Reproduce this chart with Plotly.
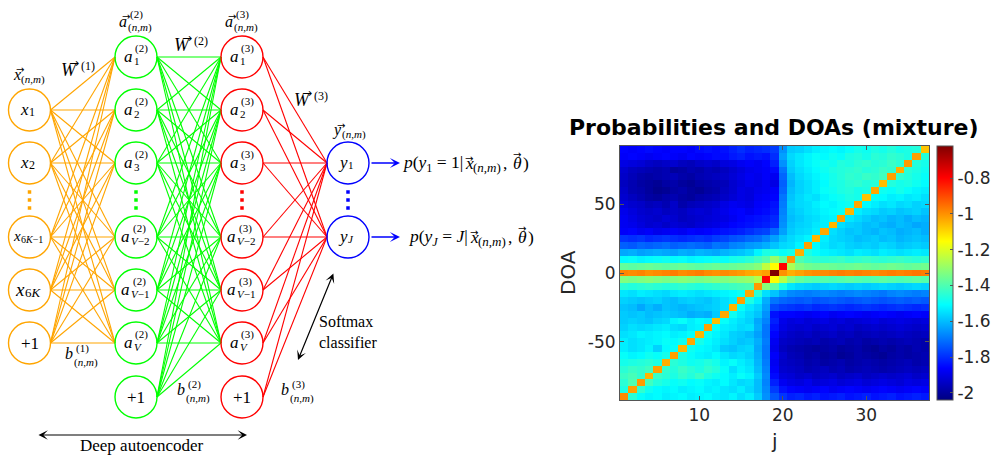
import plotly.graph_objects as go

# ---------------- heatmap data (rows: DOA 90 -> -90, columns j = 1..37) ----------------
j_index = list(range(1, 38))
doa_deg = list(range(90, -95, -5))

prob_rows = [
    [-1.86,-1.87,-1.86,-1.85,-1.86,-1.87,-1.86,-1.86,-1.87,-1.85,-1.84,-1.85,-1.84,-1.82,-1.80,-1.82,-1.81,-1.80,-1.78,-1.66,-1.58,-1.57,-1.55,-1.53,-1.52,-1.51,-1.52,-1.50,-1.48,-1.49,-1.47,-1.48,-1.46,-1.48,-1.47,-1.46,-1.07],
    [-1.87,-1.86,-1.87,-1.88,-1.87,-1.86,-1.87,-1.88,-1.86,-1.87,-1.86,-1.85,-1.85,-1.83,-1.82,-1.84,-1.83,-1.84,-1.80,-1.64,-1.56,-1.54,-1.52,-1.50,-1.51,-1.49,-1.50,-1.47,-1.46,-1.48,-1.45,-1.46,-1.44,-1.45,-1.47,-1.02,-1.46],
    [-1.90,-1.91,-1.92,-1.94,-1.95,-1.94,-1.93,-1.95,-1.96,-1.94,-1.93,-1.94,-1.91,-1.90,-1.88,-1.87,-1.88,-1.86,-1.82,-1.66,-1.57,-1.54,-1.52,-1.50,-1.48,-1.49,-1.46,-1.47,-1.45,-1.44,-1.46,-1.45,-1.43,-1.45,-1.01,-1.46,-1.48],
    [-1.93,-1.95,-1.96,-1.97,-1.98,-1.97,-2.00,-1.99,-1.97,-1.98,-1.96,-1.97,-1.95,-1.93,-1.91,-1.89,-1.88,-1.87,-1.85,-1.70,-1.58,-1.55,-1.53,-1.51,-1.49,-1.47,-1.46,-1.45,-1.44,-1.46,-1.45,-1.43,-1.44,-1.04,-1.45,-1.47,-1.49],
    [-1.94,-1.96,-1.98,-1.99,-1.98,-1.97,-1.96,-1.98,-1.99,-1.97,-1.96,-1.95,-1.94,-1.92,-1.90,-1.88,-1.89,-1.87,-1.88,-1.72,-1.60,-1.56,-1.54,-1.52,-1.50,-1.48,-1.46,-1.44,-1.45,-1.43,-1.44,-1.42,-1.02,-1.44,-1.46,-1.48,-1.50],
    [-1.95,-1.97,-1.99,-2.00,-2.01,-1.99,-1.98,-2.00,-2.01,-1.99,-1.98,-1.97,-1.96,-1.93,-1.91,-1.89,-1.90,-1.88,-1.90,-1.73,-1.61,-1.57,-1.55,-1.53,-1.51,-1.48,-1.47,-1.45,-1.44,-1.46,-1.45,-1.06,-1.46,-1.48,-1.47,-1.49,-1.51],
    [-1.94,-1.97,-1.98,-2.00,-2.02,-2.01,-1.99,-1.98,-2.00,-2.01,-1.99,-1.98,-1.95,-1.93,-1.90,-1.91,-1.89,-1.88,-1.87,-1.72,-1.60,-1.57,-1.55,-1.53,-1.50,-1.49,-1.47,-1.46,-1.48,-1.47,-1.03,-1.49,-1.50,-1.48,-1.50,-1.52,-1.53],
    [-1.93,-1.95,-1.97,-1.99,-2.00,-1.98,-1.97,-1.99,-2.00,-1.98,-1.97,-1.96,-1.94,-1.92,-1.90,-1.91,-1.88,-1.87,-1.86,-1.70,-1.59,-1.56,-1.54,-1.55,-1.52,-1.50,-1.49,-1.47,-1.48,-1.07,-1.50,-1.51,-1.53,-1.52,-1.54,-1.53,-1.55],
    [-1.91,-1.93,-1.94,-1.96,-1.95,-1.97,-1.94,-1.98,-1.96,-1.95,-1.94,-1.93,-1.90,-1.88,-1.89,-1.90,-1.87,-1.86,-1.84,-1.69,-1.58,-1.56,-1.55,-1.53,-1.51,-1.52,-1.50,-1.49,-1.03,-1.51,-1.53,-1.55,-1.54,-1.56,-1.55,-1.57,-1.56],
    [-1.89,-1.91,-1.93,-1.94,-1.93,-1.95,-1.94,-1.95,-1.93,-1.92,-1.93,-1.91,-1.89,-1.87,-1.86,-1.88,-1.86,-1.85,-1.83,-1.68,-1.59,-1.57,-1.55,-1.54,-1.52,-1.51,-1.50,-1.05,-1.53,-1.55,-1.56,-1.58,-1.57,-1.59,-1.58,-1.57,-1.59],
    [-1.88,-1.90,-1.92,-1.93,-1.94,-1.92,-1.93,-1.95,-1.94,-1.93,-1.92,-1.91,-1.90,-1.88,-1.86,-1.85,-1.84,-1.83,-1.81,-1.67,-1.60,-1.58,-1.56,-1.55,-1.53,-1.52,-1.02,-1.54,-1.56,-1.58,-1.60,-1.59,-1.61,-1.60,-1.62,-1.60,-1.61],
    [-1.88,-1.89,-1.91,-1.93,-1.92,-1.94,-1.92,-1.93,-1.94,-1.92,-1.91,-1.90,-1.88,-1.86,-1.85,-1.84,-1.83,-1.82,-1.80,-1.66,-1.59,-1.57,-1.56,-1.54,-1.53,-1.05,-1.55,-1.57,-1.58,-1.60,-1.59,-1.61,-1.62,-1.60,-1.61,-1.63,-1.62],
    [-1.87,-1.86,-1.88,-1.87,-1.89,-1.88,-1.87,-1.88,-1.86,-1.87,-1.86,-1.85,-1.84,-1.83,-1.82,-1.80,-1.78,-1.77,-1.72,-1.64,-1.58,-1.56,-1.55,-1.53,-1.03,-1.55,-1.57,-1.59,-1.58,-1.60,-1.61,-1.59,-1.60,-1.62,-1.61,-1.60,-1.62],
    [-1.79,-1.80,-1.79,-1.81,-1.80,-1.79,-1.80,-1.81,-1.80,-1.79,-1.80,-1.78,-1.77,-1.75,-1.74,-1.72,-1.71,-1.68,-1.64,-1.59,-1.56,-1.54,-1.52,-1.05,-1.53,-1.56,-1.57,-1.58,-1.60,-1.59,-1.58,-1.60,-1.59,-1.61,-1.60,-1.59,-1.60],
    [-1.73,-1.74,-1.72,-1.73,-1.72,-1.71,-1.73,-1.72,-1.71,-1.72,-1.73,-1.70,-1.71,-1.68,-1.67,-1.65,-1.64,-1.62,-1.59,-1.56,-1.55,-1.52,-1.02,-1.51,-1.54,-1.56,-1.55,-1.57,-1.58,-1.57,-1.58,-1.56,-1.57,-1.59,-1.58,-1.57,-1.58],
    [-1.63,-1.62,-1.64,-1.63,-1.62,-1.63,-1.64,-1.62,-1.63,-1.61,-1.62,-1.63,-1.61,-1.60,-1.59,-1.57,-1.52,-1.47,-1.48,-1.50,-1.48,-1.04,-1.47,-1.50,-1.52,-1.53,-1.54,-1.55,-1.53,-1.54,-1.55,-1.53,-1.54,-1.55,-1.54,-1.53,-1.54],
    [-1.51,-1.50,-1.52,-1.51,-1.50,-1.49,-1.51,-1.50,-1.52,-1.51,-1.50,-1.49,-1.50,-1.48,-1.47,-1.45,-1.42,-1.39,-1.30,-1.37,-1.01,-1.40,-1.43,-1.44,-1.45,-1.44,-1.43,-1.45,-1.44,-1.43,-1.44,-1.45,-1.44,-1.43,-1.44,-1.45,-1.44],
    [-1.37,-1.38,-1.37,-1.36,-1.37,-1.38,-1.37,-1.36,-1.37,-1.38,-1.37,-1.36,-1.37,-1.36,-1.35,-1.34,-1.32,-1.24,-1.15,-0.80,-1.27,-1.33,-1.35,-1.36,-1.35,-1.36,-1.37,-1.36,-1.35,-1.36,-1.37,-1.36,-1.35,-1.36,-1.37,-1.36,-1.35],
    [-0.98,-0.99,-0.98,-1.00,-0.99,-0.98,-0.97,-0.99,-0.98,-0.97,-0.99,-1.00,-0.99,-1.00,-1.01,-1.03,-1.04,-1.02,-0.62,-1.00,-1.04,-1.02,-1.00,-0.99,-0.99,-0.98,-0.97,-0.98,-0.97,-0.98,-0.99,-0.98,-0.97,-0.98,-0.97,-0.96,-0.97],
    [-1.33,-1.34,-1.33,-1.32,-1.33,-1.34,-1.33,-1.32,-1.33,-1.34,-1.33,-1.32,-1.33,-1.32,-1.31,-1.30,-1.26,-0.80,-1.15,-1.25,-1.33,-1.37,-1.39,-1.40,-1.39,-1.40,-1.39,-1.38,-1.39,-1.40,-1.39,-1.38,-1.39,-1.40,-1.39,-1.38,-1.39],
    [-1.45,-1.46,-1.45,-1.44,-1.45,-1.46,-1.45,-1.44,-1.45,-1.46,-1.45,-1.44,-1.43,-1.42,-1.41,-1.40,-1.01,-1.32,-1.38,-1.48,-1.54,-1.56,-1.57,-1.58,-1.57,-1.56,-1.57,-1.58,-1.57,-1.58,-1.57,-1.56,-1.57,-1.58,-1.57,-1.56,-1.57],
    [-1.54,-1.55,-1.53,-1.54,-1.55,-1.56,-1.54,-1.53,-1.54,-1.55,-1.54,-1.53,-1.52,-1.51,-1.49,-1.03,-1.45,-1.55,-1.59,-1.64,-1.67,-1.68,-1.69,-1.68,-1.67,-1.68,-1.69,-1.68,-1.67,-1.68,-1.69,-1.70,-1.68,-1.67,-1.68,-1.69,-1.68],
    [-1.57,-1.58,-1.59,-1.58,-1.57,-1.59,-1.60,-1.58,-1.57,-1.58,-1.59,-1.57,-1.55,-1.53,-1.02,-1.47,-1.53,-1.62,-1.70,-1.72,-1.73,-1.74,-1.73,-1.75,-1.74,-1.73,-1.74,-1.75,-1.74,-1.73,-1.74,-1.75,-1.74,-1.73,-1.74,-1.73,-1.74],
    [-1.59,-1.60,-1.63,-1.60,-1.62,-1.59,-1.60,-1.61,-1.60,-1.59,-1.58,-1.57,-1.55,-1.05,-1.50,-1.54,-1.57,-1.64,-1.76,-1.78,-1.79,-1.80,-1.79,-1.81,-1.80,-1.79,-1.80,-1.81,-1.80,-1.79,-1.80,-1.81,-1.80,-1.79,-1.80,-1.81,-1.80],
    [-1.58,-1.59,-1.58,-1.60,-1.59,-1.58,-1.59,-1.60,-1.62,-1.61,-1.62,-1.58,-1.03,-1.49,-1.53,-1.56,-1.59,-1.66,-1.84,-1.86,-1.86,-1.87,-1.88,-1.87,-1.86,-1.88,-1.87,-1.86,-1.87,-1.88,-1.87,-1.86,-1.87,-1.88,-1.87,-1.86,-1.87],
    [-1.58,-1.57,-1.58,-1.59,-1.57,-1.56,-1.52,-1.50,-1.53,-1.51,-1.52,-1.06,-1.50,-1.53,-1.55,-1.57,-1.63,-1.68,-1.82,-1.89,-1.91,-1.90,-1.92,-1.91,-1.90,-1.92,-1.91,-1.93,-1.92,-1.91,-1.90,-1.92,-1.91,-1.90,-1.91,-1.92,-1.91],
    [-1.57,-1.55,-1.56,-1.55,-1.54,-1.53,-1.55,-1.56,-1.53,-1.52,-1.02,-1.50,-1.53,-1.54,-1.56,-1.55,-1.62,-1.70,-1.84,-1.90,-1.92,-1.93,-1.92,-1.94,-1.93,-1.92,-1.94,-1.93,-1.95,-1.94,-1.93,-1.94,-1.93,-1.92,-1.93,-1.94,-1.93],
    [-1.55,-1.54,-1.52,-1.53,-1.52,-1.51,-1.53,-1.52,-1.50,-1.05,-1.49,-1.52,-1.54,-1.57,-1.58,-1.60,-1.64,-1.70,-1.86,-1.92,-1.94,-1.95,-1.94,-1.96,-1.95,-1.94,-1.96,-1.95,-1.97,-1.96,-1.95,-1.96,-1.95,-1.94,-1.95,-1.96,-1.95],
    [-1.53,-1.55,-1.54,-1.53,-1.52,-1.50,-1.51,-1.49,-1.03,-1.48,-1.51,-1.53,-1.55,-1.57,-1.59,-1.58,-1.62,-1.69,-1.88,-1.94,-1.95,-1.96,-1.97,-1.96,-1.98,-1.97,-1.96,-1.98,-1.97,-1.99,-1.98,-1.97,-1.98,-1.97,-1.96,-1.97,-1.98],
    [-1.53,-1.55,-1.54,-1.52,-1.57,-1.51,-1.50,-1.05,-1.49,-1.51,-1.52,-1.54,-1.58,-1.59,-1.57,-1.56,-1.63,-1.70,-1.89,-1.95,-1.97,-1.98,-1.99,-2.00,-1.99,-1.98,-2.00,-1.99,-1.98,-2.00,-2.01,-1.99,-2.00,-1.98,-1.99,-1.97,-1.98],
    [-1.50,-1.52,-1.51,-1.49,-1.50,-1.48,-1.02,-1.47,-1.50,-1.52,-1.53,-1.51,-1.54,-1.56,-1.55,-1.57,-1.62,-1.70,-1.87,-1.93,-1.96,-1.97,-1.99,-1.98,-2.00,-1.99,-2.01,-2.00,-1.98,-1.99,-2.00,-2.01,-1.99,-1.98,-1.99,-1.98,-1.97],
    [-1.48,-1.47,-1.46,-1.45,-1.47,-1.04,-1.45,-1.47,-1.49,-1.48,-1.46,-1.48,-1.52,-1.50,-1.53,-1.55,-1.61,-1.69,-1.88,-1.94,-1.95,-1.96,-1.98,-1.97,-1.99,-1.98,-1.97,-1.99,-1.98,-1.97,-1.98,-1.99,-1.98,-1.97,-1.96,-1.98,-1.97],
    [-1.45,-1.43,-1.44,-1.42,-1.02,-1.44,-1.46,-1.43,-1.45,-1.47,-1.44,-1.46,-1.50,-1.55,-1.52,-1.54,-1.60,-1.68,-1.87,-1.93,-1.94,-1.95,-1.97,-1.96,-1.95,-1.97,-1.96,-1.98,-1.97,-1.96,-1.97,-1.98,-1.97,-1.96,-1.95,-1.96,-1.95],
    [-1.43,-1.41,-1.44,-1.05,-1.43,-1.45,-1.47,-1.44,-1.46,-1.43,-1.47,-1.49,-1.51,-1.53,-1.50,-1.52,-1.58,-1.67,-1.85,-1.91,-1.92,-1.94,-1.93,-1.95,-1.94,-1.93,-1.95,-1.94,-1.93,-1.95,-1.94,-1.93,-1.94,-1.93,-1.92,-1.94,-1.93],
    [-1.45,-1.40,-1.01,-1.42,-1.46,-1.48,-1.50,-1.49,-1.51,-1.50,-1.52,-1.53,-1.51,-1.54,-1.56,-1.55,-1.60,-1.68,-1.82,-1.88,-1.90,-1.91,-1.89,-1.92,-1.91,-1.90,-1.92,-1.91,-1.90,-1.92,-1.91,-1.90,-1.91,-1.92,-1.90,-1.91,-1.90],
    [-1.47,-1.02,-1.44,-1.49,-1.51,-1.52,-1.51,-1.53,-1.52,-1.51,-1.53,-1.52,-1.54,-1.55,-1.53,-1.56,-1.60,-1.67,-1.78,-1.84,-1.86,-1.87,-1.88,-1.87,-1.86,-1.88,-1.87,-1.86,-1.87,-1.88,-1.87,-1.86,-1.87,-1.88,-1.87,-1.86,-1.87],
    [-0.99,-1.45,-1.50,-1.52,-1.51,-1.53,-1.52,-1.51,-1.53,-1.52,-1.51,-1.53,-1.54,-1.52,-1.55,-1.53,-1.58,-1.66,-1.74,-1.79,-1.82,-1.81,-1.83,-1.82,-1.84,-1.83,-1.82,-1.84,-1.83,-1.82,-1.84,-1.83,-1.82,-1.84,-1.83,-1.82,-1.83],
]
assert len(prob_rows) == 37 and all(len(r) == 37 for r in prob_rows)

x_ticks = [10, 20, 30]
y_ticks = [-50, 0, 50]
y_tick_text = ["-50", "0", "50"]
cbar_ticks = [-2, -1.8, -1.6, -1.4, -1.2, -1, -0.8]
cbar_text = ["-2", "-1.8", "-1.6", "-1.4", "-1.2", "-1", "-0.8"]

# ---------------- network diagram data ----------------
layer_x = [29.5, 136, 242, 348]                  # input, hidden 2, hidden 3, output
input_rows = [110, 163, 237, 290, 343]           # last one is the bias (+1)
hidden_rows = [57, 110, 163, 237, 290, 343, 397] # last one is the bias (+1)
output_rows = [163, 237]
ellipsis_rows = [192, 200, 208]
input_subs = ["1", "2", "6K−1", "6K"]
input_sizes = [17, 17, 15, 19]
hidden_subs = ["1", "2", "3", "V−2", "V−1", "V"]
output_subs = ["1", "J"]

ORANGE, GREEN, RED, BLUE = "#FFA500", "#00FF00", "#FF0000", "#0000FF"
SERIF = "Liberation Serif, DejaVu Serif, serif"
SANS = "DejaVu Sans, sans-serif"
R = 21

jet = [[0.0, "rgb(0,0,128)"], [0.125, "rgb(0,0,255)"], [0.375, "rgb(0,255,255)"],
       [0.625, "rgb(255,255,0)"], [0.875, "rgb(255,0,0)"], [1.0, "rgb(128,0,0)"]]

W, H = 995, 455
fig = go.Figure()

fig.add_trace(go.Heatmap(
    x=j_index, y=doa_deg, z=prob_rows, colorscale=jet, zmin=-2.04, zmax=-0.62,
    xaxis="x", yaxis="y", hoverinfo="skip",
    colorbar=dict(x=937 / W, xanchor="left", xpad=0, ypad=0, y=1 - 273 / H, yanchor="middle",
                  len=254, lenmode="pixels", thickness=16, thicknessmode="pixels",
                  outlinewidth=1, outlinecolor="#555555",
                  tickvals=cbar_ticks, ticktext=cbar_text, ticks="inside", ticklen=3,
                  tickcolor="#555555",
                  tickfont=dict(family=SANS, size=17, color="#262626")),
))

def connect(x_from, rows_from, x_to, rows_to, color):
    xs, ys = [], []
    for a in rows_from:
        for b in rows_to:
            xs += [x_from + R, x_to - R, None]
            ys += [a, b, None]
    fig.add_trace(go.Scatter(x=xs, y=ys, mode="lines", line=dict(color=color, width=1.1),
                             xaxis="x2", yaxis="y2", hoverinfo="skip", showlegend=False))

connect(layer_x[0], input_rows, layer_x[1], hidden_rows[:-1], ORANGE)
connect(layer_x[1], hidden_rows, layer_x[2], hidden_rows[:-1], GREEN)
connect(layer_x[2], hidden_rows, layer_x[3], output_rows, RED)

for lx, rows, col in [(layer_x[0], input_rows, ORANGE), (layer_x[1], hidden_rows, GREEN),
                      (layer_x[2], hidden_rows, RED), (layer_x[3], output_rows, BLUE)]:
    fig.add_trace(go.Scatter(x=[lx] * len(rows), y=rows, mode="markers",
                             marker=dict(symbol="circle-open", size=2 * R, color=col,
                                         line=dict(width=1.4, color=col)),
                             xaxis="x2", yaxis="y2", hoverinfo="skip", showlegend=False))
    fig.add_trace(go.Scatter(x=[lx] * len(ellipsis_rows), y=ellipsis_rows, mode="markers",
                             marker=dict(symbol="square", size=3.5, color=col),
                             xaxis="x2", yaxis="y2", hoverinfo="skip", showlegend=False))

# ---------------- text helpers ----------------
EM = {"(": .333, ")": .333, ",": .25, "m": .72, "W": .83, "K": .67, "V": .61,
      "−": .56, "J": .44, "x": .44, "y": .44, "+": .56}

def tw(s, size):
    return sum(EM.get(c, .5) for c in s) * size

def mathify(s):
    return "".join(f"<i>{c}</i>" if c.isalpha() else c for c in s)

def note(x, y, text, size=17, color="black", xanchor="center", yanchor="middle", family=SERIF):
    fig.add_annotation(x=x, y=y, xref="x2", yref="y2", text=text, showarrow=False,
                       font=dict(family=family, size=size, color=color),
                       xanchor=xanchor, yanchor=yanchor, borderpad=0)

def vec_arrow(x, y, size=10):
    note(x, y, "→", size, family=SANS)

def math_label(cx, cy, base, sup=None, sub=None, size=17, ssize=11, vec_dy=None,
               sup_dy=-8, sub_dy=5, vec_size=10):
    wb = tw(base, size)
    ws = max(tw(sup or "", ssize), tw(sub or "", ssize))
    xb = cx - (wb + ws) / 2 + wb
    note(xb, cy, mathify(base), size, xanchor="right")
    if vec_dy is not None:
        vec_arrow(xb - wb / 2 + 1.5, cy + vec_dy, vec_size)
    if sup:
        note(xb + 0.5, cy + sup_dy, mathify(sup), ssize, xanchor="left")
    if sub:
        note(xb - (1 if sup else 2), cy + sub_dy, mathify(sub), ssize, xanchor="left")

# node labels
for row, sub, sz in zip(input_rows[:-1], input_subs, input_sizes):
    math_label(layer_x[0], row - 1, "x", sub=sub, size=sz, ssize=round(sz * 0.68), sub_dy=3)
note(layer_x[0], input_rows[-1], "+1", 17)
for lx, lev in [(layer_x[1], "(2)"), (layer_x[2], "(3)")]:
    for row, sub in zip(hidden_rows[:-1], hidden_subs):
        math_label(lx, row - 1, "a", sup=lev, sub=sub)
    note(lx, hidden_rows[-1], "+1", 17)
for row, sub in zip(output_rows, output_subs):
    math_label(layer_x[3], row - 1, "y", sub=sub, sub_dy=3)

# layer / weight / bias labels
math_label(30, 74, "x", sub="(n,m)", size=16, ssize=11, vec_dy=-5, sub_dy=5)
math_label(136, 21.5, "a", sup="(2)", sub="(n,m)", size=16, ssize=11, vec_dy=-5, sup_dy=-7.5, sub_dy=6)
math_label(242, 21.5, "a", sup="(3)", sub="(n,m)", size=16, ssize=11, vec_dy=-5, sup_dy=-7.5, sub_dy=6)
math_label(351, 130, "y", sub="(n,m)", size=16, ssize=11, vec_dy=-4.5, sub_dy=4)
math_label(79, 69.5, "W", sup="(1)", size=18, ssize=12, vec_dy=-7, sup_dy=-4, vec_size=12)
math_label(192, 44.5, "W", sup="(2)", size=18, ssize=12, vec_dy=-7, sup_dy=-4, vec_size=12)
math_label(312, 100, "W", sup="(3)", size=18, ssize=12, vec_dy=-7, sup_dy=-4, vec_size=12)
math_label(82, 353, "b", sup="(1)", sub="(n,m)", size=16, ssize=11, sup_dy=-5, sub_dy=9)
math_label(194, 389, "b", sup="(2)", sub="(n,m)", size=16, ssize=11, sup_dy=-5, sub_dy=9)
math_label(298, 389, "b", sup="(3)", sub="(n,m)", size=16, ssize=11, sup_dy=-5, sub_dy=9)

# output probabilities  p(y_k = k | x_(n,m), theta)
p_heads = ["<i>p</i>(<i>y</i><sub>1</sub> = 1|", "<i>p</i>(<i>y</i><sub><i>J</i></sub> = <i>J</i>|"]
p_xstart = [464, 469]
for row, head, xs in zip(output_rows, p_heads, p_xstart):
    note(xs - 0.5, row, head, 17.5, xanchor="right")
    note(xs, row, "<i>x</i>", 17.5, xanchor="left")
    vec_arrow(xs + 4.5, row - 4.5, 10)
    note(xs + 8, row + 4.5, mathify("(n,m)"), 13, xanchor="left")
    note(xs + 37.5, row, ",", 17.5, xanchor="left")
    note(xs + 48, row, "<i>θ</i>", 17.5, xanchor="left")
    vec_arrow(xs + 53, row - 9, 10)
    note(xs + 57.5, row, ")", 17.5, xanchor="left")
    fig.add_annotation(x=400, y=row, ax=370, ay=row, xref="x2", yref="y2", axref="x2", ayref="y2",
                       text="", showarrow=True, arrowhead=3, arrowsize=1.3, arrowwidth=1.3,
                       arrowcolor=BLUE, standoff=0)

note(318, 321, "Softmax", 16, xanchor="left")
note(318, 342, "classifier", 16, xanchor="left")
fig.add_annotation(x=298, y=360, ax=334, ay=272, xref="x2", yref="y2", axref="x2", ayref="y2",
                   text="", showarrow=True, arrowhead=3, startarrowhead=3, arrowside="end+start",
                   arrowsize=1.3, startarrowsize=1.3, arrowwidth=1.2, arrowcolor="black",
                   standoff=0, startstandoff=0)
fig.add_annotation(x=247, y=435, ax=37, ay=435, xref="x2", yref="y2", axref="x2", ayref="y2",
                   text="", showarrow=True, arrowhead=3, startarrowhead=3, arrowside="end+start",
                   arrowsize=1.3, startarrowsize=1.3, arrowwidth=1.2, arrowcolor="black",
                   standoff=0, startstandoff=0)
note(142, 445, "Deep autoencoder", 17)

# ---------------- heatmap titles ----------------
def paper_note(px, py, text, size, color="#262626", angle=0):
    fig.add_annotation(x=px / W, y=1 - py / H, xref="paper", yref="paper", showarrow=False,
                       xanchor="center", yanchor="middle", text=text, textangle=angle,
                       font=dict(family=SANS, size=size, color=color))

paper_note(774, 127, "<b>Probabilities and DOAs (mixture)</b>", 22, color="black")
paper_note(568, 273, "DOA", 20, angle=-90)
paper_note(774, 441, "j", 20)

axis_common = dict(showgrid=False, zeroline=False, showline=True, linecolor="#555555", linewidth=1,
                   mirror="ticks", ticks="inside", ticklen=4, tickcolor="#555555",
                   tickfont=dict(family=SANS, size=17, color="#262626"))

fig.update_layout(
    width=W, height=H, margin=dict(l=0, r=0, t=0, b=0),
    paper_bgcolor="white", plot_bgcolor="white", showlegend=False,
    xaxis=dict(domain=[620 / W, 929 / W], range=[0.5, 37.5], tickvals=x_ticks,
               anchor="y", **axis_common),
    yaxis=dict(domain=[1 - 400 / H, 1 - 146 / H], range=[-92.5, 92.5], tickvals=y_ticks,
               ticktext=y_tick_text, anchor="x", **axis_common),
    xaxis2=dict(domain=[0, 560 / W], range=[0, 560], visible=False, anchor="y2", fixedrange=True),
    yaxis2=dict(domain=[0, 1], range=[H, 0], visible=False, anchor="x2", fixedrange=True),
)

fig.write_html("out.html", config={"displayModeBar": False},
               post_script="document.body.style.margin='0px';document.body.style.overflow='hidden';")
